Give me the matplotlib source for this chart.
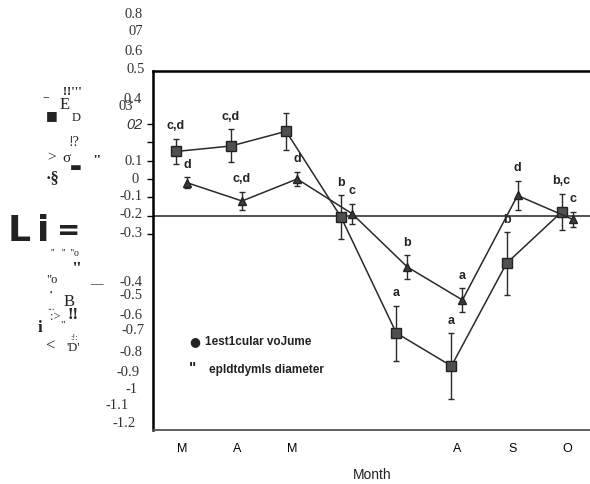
import matplotlib
matplotlib.use("Agg")
import matplotlib.pyplot as plt

W, H = 590, 484
serif = "Liberation Serif"
sans = "Liberation Sans"

# month ticks (June / July unlabeled in the scan)
months = ["M", "A", "M", "", "", "A", "S", "O"]

# epididymis diameter (squares)
epi = [0.15, 0.18, 0.26, -0.21, -0.84, -1.02, -0.46, -0.18]
epi_err = [0.07, 0.09, 0.10, 0.12, 0.15, 0.18, 0.17, 0.10]
epi_sig = ["c,d", "c,d", "", "b", "a", "a", "b", "b,c"]

# testicular volume (triangles)
tes = [-0.02, -0.12, 0.0, -0.19, -0.48, -0.66, -0.09, -0.22]
tes_err = [0.03, 0.05, 0.04, 0.055, 0.065, 0.065, 0.08, 0.04]
tes_sig = ["d", "c,d", "d", "c", "b", "a", "d", "c"]

ref_level = -0.2
ytick_vals = [0.3, 0.2, 0.1, 0.0, -0.1, -0.2, -0.3]

# y labels as printed in the scan (misaligned)
ylab_text = ["0.8", "07", "0.6", "0.5", "0.4", "02", "0.1", "0", "-0.1", "-0.2",
             "-0.3", "-0.4", "-0.5", "-0.6", "-0.7", "-0.8", "-0.9", "-1", "-1.1", "-1.2"]
ylab_at = [0.895, 0.802, 0.693, 0.595, 0.431, 0.295, 0.093, -0.005, -0.098, -0.196,
           -0.300, -0.562, -0.638, -0.747, -0.824, -0.949, -1.058, -1.146, -1.233, -1.331]
ylab_right = [143, 143, 143, 145, 142, 143, 143, 139, 143, 143,
              143, 142, 143, 143, 145, 143, 140, 138, 129, 136]

fig = plt.figure(figsize=(W / 100, H / 100), dpi=100, facecolor="white")
ax = fig.add_axes([153 / W, 1 - 430 / H, (590 - 153) / W, (430 - 71) / H])
ax.set_xlim(-0.526, 7.405)
ax.set_ylim(-1.369, 0.589)

x = list(range(len(months)))
xs = [i - 0.11 for i in x]
xt = [i + 0.09 for i in x]

ax.axhline(ref_level, color="#222222", lw=1.1, zorder=1)

ax.errorbar(xs, epi, yerr=epi_err, fmt="-", color="#2a2a2a", lw=1.1, elinewidth=1.0,
            capsize=2.5, capthick=1.0, marker="s", ms=6.5, mfc="#505050", mec="#222222",
            zorder=3)
ax.errorbar(xt, tes, yerr=tes_err, fmt="-", color="#2a2a2a", lw=1.1, elinewidth=1.0,
            capsize=2.5, capthick=1.0, marker="^", ms=6, mfc="#3a3a3a", mec="#222222",
            zorder=3)

for xi, v, e, s in zip(xs, epi, epi_err, epi_sig):
    ax.annotate(s, (xi, v + e), xytext=(0, 9), textcoords="offset points",
                ha="center", va="center", fontsize=9, fontweight="bold",
                family=sans, color="#222222")
for xi, v, e, s in zip(xt, tes, tes_err, tes_sig):
    ax.annotate(s, (xi, v + e), xytext=(0, 9), textcoords="offset points",
                ha="center", va="center", fontsize=9, fontweight="bold",
                family=sans, color="#222222")

# axes styling
ax.spines["right"].set_visible(False)
ax.spines["top"].set_linewidth(1.8)
ax.spines["left"].set_linewidth(1.8)
ax.spines["bottom"].set_color("#555555")
ax.spines["bottom"].set_linewidth(1.3)
ax.set_yticks(ytick_vals)
ax.set_yticklabels([])
ax.tick_params(axis="y", direction="out", length=4, width=1.0)
ax.set_xticks(x)
ax.set_xticklabels(months, family=sans, fontsize=9)
ax.tick_params(axis="x", length=0, pad=9)

for t, yv, r in zip(ylab_text, ylab_at, ylab_right):
    style = "italic" if t == "02" else "normal"
    fam = sans if t == "02" else serif
    ax.annotate(t, (0, yv), xycoords=ax.get_yaxis_transform(),
                xytext=(r - 153, 0), textcoords="offset pixels",
                ha="right", va="center", fontsize=10.5, family=fam,
                style=style, color="#333333", annotation_clip=False)
ax.annotate("03", (0, 0.393), xycoords=ax.get_yaxis_transform(),
            xytext=(133 - 153, 0), textcoords="offset pixels",
            ha="right", va="center", fontsize=10.5, family=serif,
            color="#333333", annotation_clip=False)

fig.text(372 / W, 1 - 475 / H, "Month", ha="center", va="center",
         fontsize=10, family=sans, color="#222222")

# legend (as printed)
def px(xp, yp, s, **kw):
    fig.text(xp / W, 1 - yp / H, s, va="center", **kw)

px(189, 342, "●", fontsize=9, family="DejaVu Sans", color="#222222")
px(205, 342, "1est1cular voJume", fontsize=8.5, family=sans, fontweight="bold",
   color="#222222")
px(189, 368, '"', fontsize=11, family=sans, fontweight="bold", color="#222222")
px(209, 370, "epldtdymls diameter", fontsize=8.5, family=sans, fontweight="bold",
   color="#222222")

# garbled y-axis title from the scan
noise = [
    (63, 92, "!!'''", 9, "bold", serif),
    (60, 105, "E", 12, "normal", serif),
    (43, 106, "‾", 10, "bold", serif),
    (46, 116, "■", 9, "bold", "DejaVu Sans"),
    (72, 118, "D", 9, "normal", serif),
    (47, 158, ">", 11, "normal", serif),
    (62, 158, "σ", 11, "normal", serif),
    (69, 142, "!?", 10, "normal", serif),
    (92, 162, '"', 11, "bold", serif),
    (46, 178, "·§", 12, "bold", serif),
    (70, 167, "▬", 9, "bold", "DejaVu Sans"),
    (8, 231, "L", 26, "heavy", "DejaVu Sans"),
    (37, 231, "i", 26, "heavy", "DejaVu Sans"),
    (57, 231, "=", 20, "heavy", "DejaVu Sans"),
    (51, 253, "''   ''  ''o", 7, "normal", serif),
    (72, 270, '"', 13, "bold", serif),
    (46, 280, '"o', 9, "normal", serif),
    (90, 284, "—", 9, "normal", serif),
    (50, 295, "''", 7, "normal", serif),
    (64, 302, "B", 12, "normal", serif),
    (47, 307, "...", 7, "normal", serif),
    (50, 317, ":>", 9, "normal", serif),
    (60, 325, '"', 8, "normal", serif),
    (68, 315, "!!", 12, "bold", serif),
    (38, 328, "i", 12, "bold", serif),
    (45, 347, "<", 12, "normal", serif),
    (70, 338, ":!:", 6, "normal", serif),
    (66, 348, "'D'", 9, "normal", serif),
]
for xp, yp, s, fs, fw, fam in noise:
    px(xp, yp, s, fontsize=fs, fontweight=fw, family=fam, color="#222222")

fig.savefig("out.png", dpi=100, facecolor="white")
